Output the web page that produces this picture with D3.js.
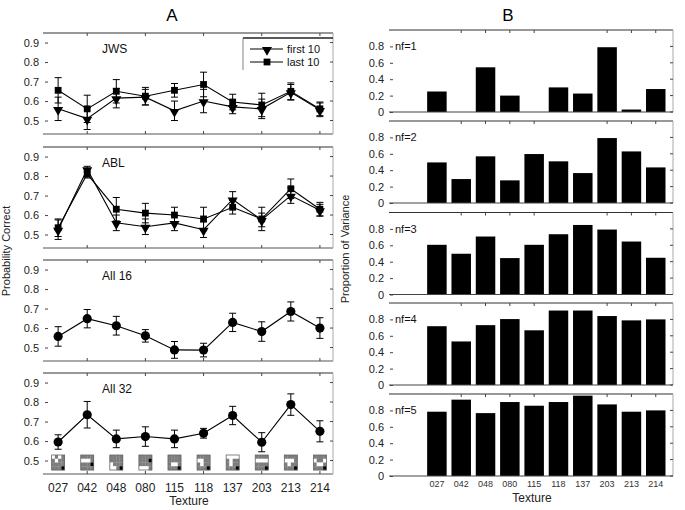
<!DOCTYPE html>
<html><head><meta charset="utf-8">
<script src="https://cdn.jsdelivr.net/npm/d3@7"></script>
<style>body{margin:0;background:#fff}svg{display:block;font-family:"Liberation Sans",Arial,sans-serif}</style>
</head><body><svg id="c" width="685" height="510"></svg>
<script>
const textures = ["027","042","048","080","115","118","137","203","213","214"];
const yTicksA = [0.5,0.6,0.7,0.8,0.9];
const yTicksB = [0,0.2,0.4,0.6,0.8];
const panelNamesA = ["JWS","ABL","All 16","All 32"];
const legendLabels = ["first 10","last 10"];
const jwsFirst = [0.56,0.51,0.615,0.62,0.55,0.60,0.57,0.56,0.645,0.555];
const jwsFirstErr = [0.06,0.056,0.05,0.04,0.05,0.06,0.035,0.05,0.04,0.035];
const jwsLast = [0.655,0.56,0.65,0.625,0.655,0.685,0.595,0.58,0.65,0.56];
const jwsLastErr = [0.065,0.07,0.06,0.045,0.035,0.063,0.04,0.06,0.043,0.035];
const ablFirst = [0.525,0.835,0.56,0.54,0.56,0.525,0.68,0.575,0.70,0.625];
const ablFirstErr = [0.05,0.015,0.04,0.04,0.04,0.04,0.04,0.035,0.04,0.03];
const ablLast = [0.535,0.81,0.63,0.61,0.60,0.58,0.64,0.58,0.735,0.63];
const ablLastErr = [0.045,0.02,0.06,0.05,0.04,0.06,0.035,0.06,0.05,0.035];
const all16 = [0.557,0.648,0.612,0.56,0.488,0.487,0.629,0.582,0.685,0.60];
const all16Err = [0.05,0.047,0.048,0.032,0.043,0.035,0.047,0.05,0.049,0.053];
const all32 = [0.595,0.735,0.611,0.623,0.611,0.64,0.731,0.594,0.787,0.65];
const all32Err = [0.037,0.068,0.045,0.05,0.045,0.025,0.047,0.049,0.055,0.054];
const nfLabels = ["nf=1","nf=2","nf=3","nf=4","nf=5"];
const nf1 = [0.25,0,0.545,0.2,0,0.3,0.225,0.79,0.03,0.28];
const nf2 = [0.495,0.292,0.569,0.276,0.597,0.508,0.365,0.792,0.629,0.434];
const nf3 = [0.606,0.497,0.707,0.444,0.606,0.735,0.848,0.792,0.646,0.448];
const nf4 = [0.717,0.531,0.73,0.804,0.667,0.908,0.908,0.841,0.788,0.80];
const nf5 = [0.784,0.931,0.767,0.902,0.857,0.902,0.98,0.873,0.784,0.80];
// texture icon patterns (4x4 cells: g=gray, w=white, b=black)
const iconPatterns = [
 "wgwg gwgg gggg gggb","gggg wwwg gggb gggg","gggg gggg wggg wwgb","gggg gggb gggg wwwg",
 "gggg gggg gwwg gggb","gggg wwgg gwgg gggb","wwww gwgg gwgg gggb","gggg wwww gggg gggb",
 "gggg wwwg gwgg gggb","gggg wggw gwwg gggb"];

const svg = d3.select("#c");
const font = '"Liberation Sans",Arial,sans-serif';

svg.append("text").attr("x",172).attr("y",21).attr("text-anchor","middle").attr("font-size",17).text("A");
svg.append("text").attr("x",508).attr("y",21).attr("text-anchor","middle").attr("font-size",17).text("B");

// ---------- Panel A ----------
const xA = d3.scaleLinear().domain([-0.52,9.45]).range([43,333]);
const seriesA = [
  [{v:jwsFirst,e:jwsFirstErr,m:"tri"},{v:jwsLast,e:jwsLastErr,m:"sq"}],
  [{v:ablFirst,e:ablFirstErr,m:"tri"},{v:ablLast,e:ablLastErr,m:"sq"}],
  [{v:all16,e:all16Err,m:"dot"}],
  [{v:all32,e:all32Err,m:"dot"}]
];
const tri = d3.symbol().type(d3.symbolTriangle).size(44);
const sq = d3.symbol().type(d3.symbolSquare).size(46);
const dot = d3.symbol().type(d3.symbolCircle).size(66);
function marker(g,type,x,y){
  if(type==="tri") g.append("path").attr("d",tri).attr("transform",`translate(${x},${y+1}) rotate(180)`).attr("fill","#000");
  else if(type==="sq") g.append("path").attr("d",sq).attr("transform",`translate(${x},${y})`).attr("fill","#000");
  else g.append("path").attr("d",dot).attr("transform",`translate(${x},${y})`).attr("fill","#000");
}
const topsA = [33,147,260,373];
topsA.forEach((top,pi)=>{
  const bottom = top+101;
  const y = d3.scaleLinear().domain([0.431,0.949]).range([bottom,top]);
  const g = svg.append("g");
  g.append("line").attr("x1",43).attr("x2",333).attr("y1",top).attr("y2",top).attr("stroke","#333").attr("stroke-width",1.2);
  g.append("line").attr("x1",43).attr("x2",333).attr("y1",bottom).attr("y2",bottom).attr("stroke","#555").attr("stroke-width",1.2);
  g.append("line").attr("x1",333).attr("x2",333).attr("y1",top).attr("y2",bottom).attr("stroke","#aaa").attr("stroke-width",1);
  const ya = d3.axisLeft(y).tickValues(yTicksA).tickFormat(d3.format(".1f")).tickSize(-3).tickPadding(6);
  const ax = g.append("g").attr("transform","translate(45,0)").call(ya);
  ax.select(".domain").remove();
  ax.selectAll("text").attr("font-size",11).attr("font-family",font).attr("fill","#222");
  ax.selectAll("line").attr("stroke","#444");
  yTicksA.forEach(t=>g.append("line").attr("x1",330).attr("x2",333).attr("y1",y(t)).attr("y2",y(t)).attr("stroke","#444"));
  textures.forEach((t,i)=>{ if(i%2===1){
    g.append("line").attr("x1",xA(i)).attr("x2",xA(i)).attr("y1",top).attr("y2",top+3).attr("stroke","#444");
    g.append("line").attr("x1",xA(i)).attr("x2",xA(i)).attr("y1",bottom).attr("y2",bottom-3).attr("stroke","#444");
  }});
  g.append("text").attr("x",102).attr("y",top+20).attr("font-size",12).attr("fill","#111").text(panelNamesA[pi]);
  if(pi===3){
    textures.forEach((t,i)=>{
      const cx = xA(i), x0=cx-6.5, y0=455, cw=13/4, ch=15/4;
      const rows = iconPatterns[i].split(" ");
      rows.forEach((r,ri)=>{ for(let ci=0;ci<4;ci++){
        const c = r[ci]; const col = c==="w"?"#fff":c==="b"?"#000":"#7d7d7d";
        g.append("rect").attr("x",x0+ci*cw).attr("y",y0+ri*ch).attr("width",cw+0.2).attr("height",ch+0.2).attr("fill",col);
      }});
      g.append("rect").attr("x",x0).attr("y",y0).attr("width",13).attr("height",15).attr("fill","none").attr("stroke","#666").attr("stroke-width",0.8);
    });
  }
  seriesA[pi].forEach(s=>{
    const line = d3.line().x((d,i)=>xA(i)).y(d=>y(d));
    g.append("path").datum(s.v).attr("d",line).attr("fill","none").attr("stroke","#000").attr("stroke-width",1.1);
    s.v.forEach((v,i)=>{
      const x = xA(i), e = s.e[i];
      g.append("line").attr("x1",x).attr("x2",x).attr("y1",y(v-e)).attr("y2",y(v+e)).attr("stroke","#000").attr("stroke-width",1);
      [v-e,v+e].forEach(w=>g.append("line").attr("x1",x-3.5).attr("x2",x+3.5).attr("y1",y(w)).attr("y2",y(w)).attr("stroke","#000").attr("stroke-width",1));
      marker(g,s.m,x,y(v));
    });
  });
  if(pi===0){
    const lg = g.append("g");
    lg.append("line").attr("x1",243).attr("x2",333).attr("y1",38).attr("y2",38).attr("stroke","#222").attr("stroke-width",1.5);
    lg.append("line").attr("x1",243).attr("x2",243).attr("y1",38).attr("y2",70).attr("stroke","#666").attr("stroke-width",0.8);
    ["tri","sq"].forEach((m,k)=>{
      const ly = 49+k*13;
      lg.append("line").attr("x1",250).attr("x2",283).attr("y1",ly).attr("y2",ly).attr("stroke","#000").attr("stroke-width",1.1);
      marker(lg,m,267,ly);
      lg.append("text").attr("x",287).attr("y",ly+4).attr("font-size",11).attr("fill","#111").text(legendLabels[k]);
    });
  }
});
textures.forEach((t,i)=>svg.append("text").attr("x",xA(i)).attr("y",492).attr("text-anchor","middle").attr("font-size",12).attr("fill","#222").text(t));
svg.append("text").attr("x",189).attr("y",505).attr("text-anchor","middle").attr("font-size",12).attr("fill","#222").text("Texture");
svg.append("text").attr("transform","translate(10,251) rotate(-90)").attr("text-anchor","middle").attr("font-size",11).attr("fill","#222").text("Probability Correct");

// ---------- Panel B ----------
const xB = d3.scaleLinear().domain([-1.97,9.71]).range([389,673]);
const bw = 19.5;
const nfData = [nf1,nf2,nf3,nf4,nf5];
const topTickIdx = [1,2,3,4,7,8,9];
const bottomsB = [112,203,294.5,385,476];
bottomsB.forEach((bottom,pi)=>{
  const top = bottom-82;
  const y = d3.scaleLinear().domain([0,1]).range([bottom,top]);
  const g = svg.append("g");
  g.append("line").attr("x1",389).attr("x2",673).attr("y1",top).attr("y2",top).attr("stroke","#333").attr("stroke-width",1.2);
  g.append("line").attr("x1",673).attr("x2",673).attr("y1",top).attr("y2",bottom).attr("stroke","#aaa");
  topTickIdx.forEach(i=>g.append("line").attr("x1",xB(i)).attr("x2",xB(i)).attr("y1",top).attr("y2",top+3).attr("stroke","#444"));
  g.selectAll("rect.bar").data(nfData[pi]).enter().append("rect").attr("class","bar")
    .attr("x",(d,i)=>xB(i)-bw/2).attr("width",bw)
    .attr("y",d=>y(d)).attr("height",d=>y(0)-y(d)).attr("fill","#000");
  g.append("line").attr("x1",389).attr("x2",673).attr("y1",bottom).attr("y2",bottom).attr("stroke","#444").attr("stroke-width",1.2);
  const ya = d3.axisLeft(y).tickValues(yTicksB).tickFormat(d=>d===0?"0":d3.format(".1f")(d)).tickSize(-3).tickPadding(6);
  const ax = g.append("g").attr("transform","translate(390,0)").call(ya);
  ax.select(".domain").remove();
  ax.selectAll("text").attr("font-size",11).attr("font-family",font).attr("fill","#222");
  ax.selectAll("line").attr("stroke","#444");
  yTicksB.forEach(t=>g.append("line").attr("x1",670).attr("x2",673).attr("y1",y(t)).attr("y2",y(t)).attr("stroke","#444"));
  g.append("text").attr("x",395).attr("y",y(0.8)+4).attr("font-size",11).attr("fill","#111").text(nfLabels[pi]);
});
textures.forEach((t,i)=>svg.append("text").attr("x",xB(i)).attr("y",487).attr("text-anchor","middle").attr("font-size",9).attr("fill","#333").text(t));
svg.append("text").attr("x",532).attr("y",502).attr("text-anchor","middle").attr("font-size",12).attr("fill","#222").text("Texture");
svg.append("text").attr("transform","translate(349,249) rotate(-90)").attr("text-anchor","middle").attr("font-size",11).attr("fill","#222").text("Proportion of Variance");
</script></body></html>
